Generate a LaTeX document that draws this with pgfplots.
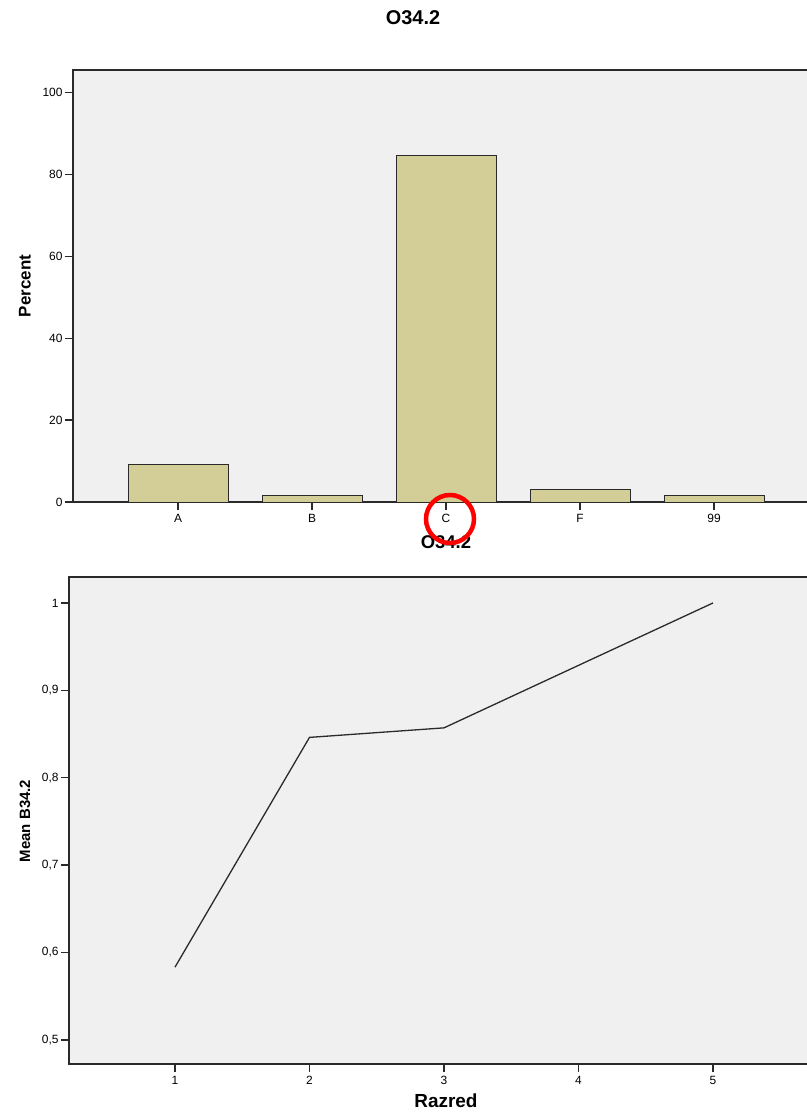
\documentclass[border=0pt]{standalone}
\usepackage{pgfplots}
\pgfplotsset{compat=1.18}
\usepackage{fontspec}
\setmainfont{Liberation Sans}
\definecolor{bgc}{HTML}{F0F0F0}
\definecolor{barc}{HTML}{D3CE97}
\definecolor{axc}{HTML}{2A2A2A}
\begin{document}
\begin{tikzpicture}
\path[use as bounding box, fill=white] (0,0) rectangle (807bp,-1112bp);
\begin{axis}[
  at={(73bp,-502bp)}, anchor=south west,
  scale only axis, width=754bp, height=432bp,
  xmin=-0.7836, xmax=4.843, ymin=0, ymax=105.5,
  axis background/.style={fill=bgc},
  axis line style={axc, line width=1.4bp},
  xtick={0,1,2,3,4}, xticklabels={A,B,C,F,99},
  ytick={0,20,40,60,80,100},
  xtick pos=bottom, ytick pos=left,
  tick align=outside, major tick length=8bp,
  tick style={axc, line width=1.4bp},
  tick label style={font=\fontsize{12}{14}\selectfont},
  /pgf/number format/assume math mode=true,
  xticklabel style={yshift=-1bp},
  yticklabel style={xshift=1bp},
]
\addplot[ybar, bar width=100bp, fill=barc, draw=axc, line width=1bp]
  coordinates {(0,9.23)(1,1.54)(2,84.62)(3,3.08)(4,1.54)};
\end{axis}
\node[font=\fontsize{20}{24}\selectfont\bfseries] at (413bp,-18bp) {O34.2};
\node[font=\fontsize{17}{20}\selectfont\bfseries, rotate=90] at (25bp,-286bp) {Percent};
\begin{axis}[
  at={(69bp,-1064bp)}, anchor=south west,
  scale only axis, width=760bp, height=487bp,
  xmin=0.212, xmax=5.8625, ymin=0.4725, ymax=1.0297,
  axis background/.style={fill=bgc},
  axis line style={axc, line width=1.4bp},
  xtick={1,2,3,4,5},
  ytick={0.5,0.6,0.7,0.8,0.9,1},
  yticklabels={{0,5},{0,6},{0,7},{0,8},{0,9},1},
  xtick pos=bottom, ytick pos=left,
  tick align=outside, major tick length=8bp,
  tick style={axc, line width=1.4bp},
  tick label style={font=\fontsize{12}{14}\selectfont},
  /pgf/number format/assume math mode=true,
  xticklabel style={yshift=-1bp},
  yticklabel style={xshift=1bp},
]
\addplot[color=axc, line width=1.3bp]
  coordinates {(1,0.5833)(2,0.8462)(3,0.8571)(4,0.9286)(5,1.0)};
\end{axis}
\node[font=\fontsize{18.5}{22}\selectfont\bfseries] at (446bp,-542bp) {O34.2};
\node[font=\fontsize{15}{18}\selectfont\bfseries, rotate=90] at (25bp,-821bp) {Mean B34.2};
\node[font=\fontsize{19}{22}\selectfont\bfseries] at (446bp,-1101bp) {Razred};
\draw[red, line width=4.5bp] (450bp,-519bp) circle (24bp);
\end{tikzpicture}
\end{document}
